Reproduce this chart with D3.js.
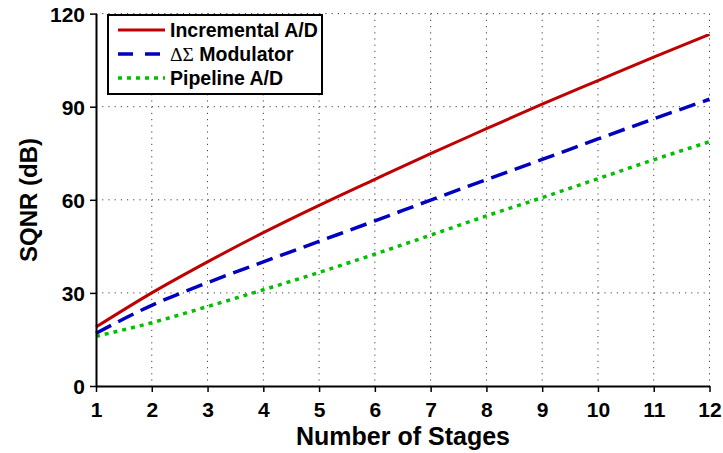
<!DOCTYPE html>
<html>
<head>
<meta charset="utf-8">
<script src="https://cdn.jsdelivr.net/npm/d3@7"></script>
<style>
  html, body { margin: 0; padding: 0; background: #fff; }
  svg { display: block; font-family: "Liberation Sans", Arial, sans-serif; font-weight: bold; }
</style>
</head>
<body>
<svg id="chart" width="723" height="453"></svg>
<script>
// Number of stages (x) and SQNR in dB for each architecture
const stages = [1, 2, 3, 4, 5, 6, 7, 8, 9, 10, 11, 12];
const incrementalAD = [19, 30, 40, 49.4, 58.2, 66.6, 74.9, 82.9, 90.8, 98.4, 106, 113.3];
const deltaSigma   = [17, 26, 33.3, 40, 46.6, 53.2, 59.9, 66.5, 73, 79.6, 86.1, 92.4];
const pipelineAD   = [16, 20.4, 25.6, 31, 36.6, 42.5, 48.6, 54.8, 60.7, 66.8, 72.9, 78.7];
const seriesNames  = ["Incremental A/D", "\u0394\u03A3 Modulator", "Pipeline A/D"];
const yTicks = [0, 30, 60, 90, 120];

const svg = d3.select("#chart");
const plotLeft = 96, plotRight = 709.5, plotTop = 13.6, plotBottom = 386;

const x = d3.scaleLinear().domain([1, 12]).range([plotLeft, plotRight]);
const y = d3.scaleLinear().domain([0, 120]).range([plotBottom, plotTop]);

// dotted grid
const grid = svg.append("g").attr("stroke", "#444").attr("stroke-width", 1)
  .attr("stroke-dasharray", "1.2,5");
grid.selectAll("line.v").data(stages.slice(1)).join("line")
  .attr("x1", d => x(d)).attr("x2", d => x(d))
  .attr("y1", plotTop).attr("y2", plotBottom);
grid.selectAll("line.h").data(yTicks.slice(1)).join("line")
  .attr("x1", plotLeft).attr("x2", plotRight)
  .attr("y1", d => y(d)).attr("y2", d => y(d));

// series
const series = [
  { name: seriesNames[0], values: incrementalAD, color: "#c00000", dash: null, legendDash: null, width: 3 },
  { name: seriesNames[1], values: deltaSigma, color: "#0000c0", dash: "17,8", legendDash: "15,12", width: 3.5 },
  { name: seriesNames[2], values: pipelineAD, color: "#00c000", dash: "4,5", legendDash: "4,5", width: 3.5 }
];

const line = d3.line()
  .x((d, i) => x(stages[i]))
  .y(d => y(d))
  .curve(d3.curveMonotoneX);

svg.append("g").selectAll("path").data(series).join("path")
  .attr("d", d => line(d.values))
  .attr("fill", "none")
  .attr("stroke", d => d.color)
  .attr("stroke-width", d => d.width)
  .attr("stroke-dasharray", d => d.dash);

// axes
const xAxis = d3.axisBottom(x).tickValues(stages).tickFormat(d3.format("d"))
  .tickSizeInner(6).tickSizeOuter(0).tickPadding(10);
const gx = svg.append("g").attr("transform", `translate(0,${plotBottom})`).call(xAxis);
const yAxis = d3.axisLeft(y).tickValues(yTicks).tickFormat(d3.format("d"))
  .tickSizeInner(6).tickSizeOuter(0).tickPadding(5);
const gy = svg.append("g").attr("transform", `translate(${plotLeft},0)`).call(yAxis);

[gx, gy].forEach(g => {
  g.select(".domain").attr("stroke", "#000").attr("stroke-width", 2);
  g.selectAll(".tick line").attr("stroke", "#000").attr("stroke-width", 1.5);
  g.selectAll(".tick text").attr("fill", "#000")
    .style("font-size", "21px").style("font-weight", "bold")
    .style("font-family", "'Liberation Sans', Arial, sans-serif");
});
gy.selectAll(".tick text").attr("dy", "0.36em");

// axis titles
svg.append("text")
  .attr("x", 403).attr("y", 445)
  .attr("text-anchor", "middle")
  .style("font-size", "25px")
  .text("Number of Stages");

svg.append("text")
  .attr("transform", "translate(37,200) rotate(-90)")
  .attr("text-anchor", "middle")
  .style("font-size", "24px")
  .text("SQNR (dB)");

// legend
const lg = svg.append("g");
lg.append("rect")
  .attr("x", 108).attr("y", 15).attr("width", 214).attr("height", 79)
  .attr("fill", "#fff").attr("stroke", "#000").attr("stroke-width", 2);
const rows = lg.selectAll("g.row").data(series).join("g")
  .attr("transform", (d, i) => `translate(0,${30 + i * 24})`);
rows.append("line")
  .attr("x1", 118).attr("x2", 165).attr("y1", 0).attr("y2", 0)
  .attr("stroke", d => d.color)
  .attr("stroke-width", d => d.width)
  .attr("stroke-dasharray", d => d.legendDash);
rows.append("text")
  .attr("x", 170).attr("y", 0).attr("dy", "0.36em")
  .style("font-size", "19.5px")
  .each(function (d) {
    const t = d3.select(this);
    // Greek symbols are set in a light serif face, the rest in bold sans
    const m = d.name.match(/^([\u0394\u03A3]+)(.*)$/);
    if (m) {
      t.append("tspan")
        .style("font-family", "'Liberation Serif', 'Times New Roman', serif")
        .style("font-weight", "normal")
        .text(m[1]);
      t.append("tspan").text(m[2]);
    } else {
      t.text(d.name);
    }
  });
</script>
</body>
</html>
